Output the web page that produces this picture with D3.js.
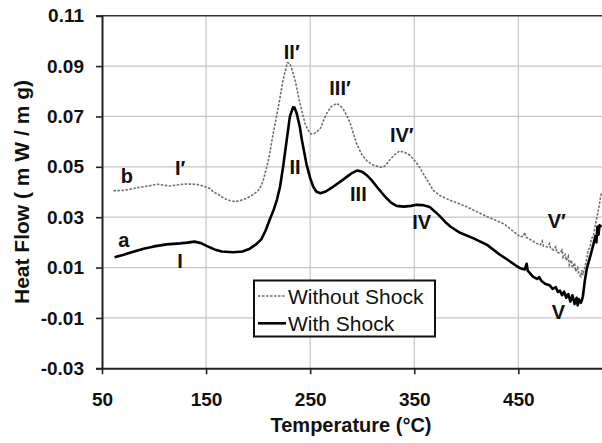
<!DOCTYPE html>
<html>
<head>
<meta charset="utf-8">
<script src="https://cdn.jsdelivr.net/npm/d3@7"></script>
<style>
  html, body { margin: 0; padding: 0; background: #fff; }
  svg { display: block; }
  text { font-family: "Liberation Sans", Arial, sans-serif; }
</style>
</head>
<body>
<svg id="chart" width="602" height="443"></svg>
<script>
// ---- data ----
const xTicks = [50, 150, 250, 350, 450];
const yTicks = [-0.03, -0.01, 0.01, 0.03, 0.05, 0.07, 0.09, 0.11];

const seriesNames = ["Without Shock", "With Shock"];

// Curve a: With Shock
const tempA = [62, 70, 80, 90, 100, 112, 125, 132, 139, 145, 151, 158, 165, 176, 185, 192, 198, 203, 207, 211, 215, 218, 221, 224, 227.5, 230.5, 233.5, 235, 237, 240, 242, 246.5, 250, 253, 256, 260, 265, 270, 282, 290, 295, 300, 304, 309, 314, 319, 323.5, 328, 333, 340, 347, 352, 358, 365, 370, 375, 380, 385, 394, 407, 420, 432, 440, 448, 452, 456, 458, 459, 464, 468, 470, 472, 476, 480, 483, 486, 488, 490, 492, 494, 496, 498, 500, 502, 504, 506, 507, 508, 510, 511, 512, 514, 516, 519, 522, 524, 525, 526, 527, 528, 530];
const heatA = [0.0141, 0.0150, 0.0163, 0.0175, 0.0184, 0.0192, 0.0196, 0.0199, 0.0203, 0.0197, 0.0185, 0.0172, 0.0164, 0.0161, 0.0164, 0.0175, 0.0192, 0.0212, 0.0245, 0.0289, 0.0330, 0.0368, 0.0420, 0.0500, 0.0607, 0.0699, 0.0736, 0.0735, 0.0713, 0.0660, 0.0607, 0.0510, 0.0455, 0.0421, 0.0401, 0.0395, 0.0402, 0.0415, 0.0450, 0.0475, 0.0485, 0.0480, 0.0468, 0.0447, 0.0421, 0.0396, 0.0375, 0.0357, 0.0345, 0.0342, 0.0345, 0.0349, 0.0348, 0.0340, 0.0322, 0.0302, 0.0280, 0.0262, 0.0238, 0.0216, 0.0190, 0.0152, 0.0130, 0.0107, 0.0097, 0.0092, 0.0115, 0.0088, 0.0064, 0.0055, 0.0062, 0.0048, 0.0035, 0.0030, 0.0015, 0.0022, 0.0003, 0.0008, -0.0010, 0.0004, -0.0020, -0.0005, -0.0035, -0.0010, -0.0045, -0.0020, -0.0050, -0.0025, -0.0040, -0.0030, -0.0015, 0.0051, 0.0100, 0.0143, 0.0190, 0.0225, 0.0200, 0.0262, 0.0230, 0.0268, 0.0262];

// Curve b: Without Shock
const tempB = [61, 70, 77, 85, 90, 96, 103, 110, 115, 122, 131, 138, 144, 150, 154, 157, 162, 167, 172, 178, 183, 189, 194, 199, 203, 205, 208, 210, 214.5, 219.5, 224, 228, 230.5, 233, 235.5, 240, 245, 248, 251, 254, 259.5, 263, 266, 270, 275.5, 281.5, 285, 288.5, 294.5, 300, 305, 310.5, 316, 320, 323, 326.5, 331, 336, 341, 346, 351, 355.5, 362, 368, 375, 384, 392, 400, 410, 420, 428, 436, 445, 450, 452, 455, 456, 457, 462, 468, 471, 473, 474, 478, 480, 481, 484, 486, 487, 490, 492, 493, 495, 496, 498, 499, 501, 502, 504, 505, 507, 508, 510, 511, 512, 514, 516, 517, 519, 520, 522, 524, 525, 527, 528.5, 529.5, 530];
const heatB = [0.0405, 0.0406, 0.0411, 0.0418, 0.0421, 0.0425, 0.0431, 0.0427, 0.0424, 0.0428, 0.0432, 0.0431, 0.0428, 0.0420, 0.0413, 0.0400, 0.0390, 0.0375, 0.0367, 0.0362, 0.0366, 0.0375, 0.0387, 0.0401, 0.0425, 0.0448, 0.0495, 0.0527, 0.0633, 0.0739, 0.0845, 0.0913, 0.0911, 0.0880, 0.0845, 0.0755, 0.0673, 0.0645, 0.0630, 0.0632, 0.0650, 0.0685, 0.0713, 0.0738, 0.0752, 0.0732, 0.0705, 0.0673, 0.0593, 0.0545, 0.0522, 0.0507, 0.0500, 0.0498, 0.0508, 0.0527, 0.0548, 0.0563, 0.0557, 0.0545, 0.0522, 0.0495, 0.0450, 0.0408, 0.0385, 0.0368, 0.0355, 0.0342, 0.0322, 0.0302, 0.0288, 0.0274, 0.0245, 0.0228, 0.0222, 0.0224, 0.0240, 0.0222, 0.0210, 0.0195, 0.0190, 0.0205, 0.0186, 0.0182, 0.0195, 0.0175, 0.0170, 0.0182, 0.0160, 0.0158, 0.0170, 0.0140, 0.0152, 0.0128, 0.0145, 0.0110, 0.0130, 0.0100, 0.0118, 0.0085, 0.0100, 0.0075, 0.0064, 0.0090, 0.0070, 0.0104, 0.0140, 0.0170, 0.0180, 0.0215, 0.0223, 0.0270, 0.0289, 0.0330, 0.0368, 0.0390, 0.0395];

// Peak annotations (text and the data point they sit at)
const peakLabels = ["b", "I\u2032", "a", "I", "II\u2032", "II", "III\u2032", "III", "IV\u2032", "IV", "V\u2032", "V"];
const peakTemps  = [74, 125, 71, 125, 232.3, 235.4, 278.7, 296.3, 338, 357.2, 486.9, 488.4];
const peakHeats  = [0.0464, 0.0494, 0.0210, 0.0126, 0.0957, 0.0500, 0.0813, 0.0392, 0.0628, 0.0282, 0.0285, -0.0075];

// ---- layout ----
const svg = d3.select("#chart");
const padL = 102, padR = 601.6, padT = 15.7, padB = 368.3;

const x = d3.scaleLinear().domain([50, 530]).range([padL, padR]);
const y = d3.scaleLinear().domain([-0.03, 0.11]).range([padB, padT]);

const defs = svg.append("defs");
defs.append("clipPath").attr("id", "clip")
  .append("rect").attr("x", padL).attr("y", padT - 2).attr("width", padR - padL + 2).attr("height", padB - padT + 4);

// gridlines
const grid = svg.append("g");
grid.selectAll("line.h").data(yTicks.filter(d => d > -0.03 && d < 0.11)).join("line")
  .attr("x1", padL).attr("x2", 602)
  .attr("y1", d => y(d)).attr("y2", d => y(d))
  .attr("stroke", "#c6c6c6").attr("stroke-width", 1.2);
grid.selectAll("line.v").data(xTicks.filter(d => d > 50)).join("line")
  .attr("x1", d => x(d)).attr("x2", d => x(d))
  .attr("y1", padT).attr("y2", padB)
  .attr("stroke", "#c6c6c6").attr("stroke-width", 1.2);

// top border
svg.append("line").attr("x1", padL).attr("x2", 602).attr("y1", padT).attr("y2", padT)
  .attr("stroke", "#333").attr("stroke-width", 1.6);

// axes
const yAxis = d3.axisLeft(y).tickValues(yTicks).tickFormat(d => d.toFixed(2)).tickSize(6).tickPadding(12);
const gy = svg.append("g").attr("transform", `translate(${padL},0)`).call(yAxis);
const xAxis = d3.axisBottom(x).tickValues(xTicks).tickFormat(d3.format("d")).tickSize(6).tickPadding(18);
const gx = svg.append("g").attr("transform", `translate(0,${padB})`).call(xAxis);

[gy, gx].forEach(g => {
  g.select(".domain").attr("stroke", "#222").attr("stroke-width", 2);
  g.selectAll(".tick line").attr("stroke", "#222").attr("stroke-width", 1.6);
  g.selectAll(".tick text").attr("fill", "#111")
    .style("font-family", '"Liberation Sans", Arial, sans-serif')
    .style("font-size", "19px").style("font-weight", "bold");
});
gx.select(".domain").attr("d", `M${padL},0.5H602`);

// axis titles
svg.append("text").attr("x", 351).attr("y", 432).attr("text-anchor", "middle")
  .style("font-size", "20px").style("font-weight", "bold").attr("fill", "#111")
  .text("Temperature (\u00B0C)");
svg.append("text").attr("transform", "translate(29,192) rotate(-90)").attr("text-anchor", "middle")
  .style("font-size", "21px").style("font-weight", "bold").attr("fill", "#111")
  .text("Heat  Flow ( m W / m g)");

// curves
const line = d3.line().x(d => x(d[0])).y(d => y(d[1])).curve(d3.curveLinear);
const dataA = tempA.map((t, i) => [t, heatA[i]]);
const dataB = tempB.map((t, i) => [t, heatB[i]]);
const plot = svg.append("g").attr("clip-path", "url(#clip)");
plot.append("path").datum(dataB).attr("d", line)
  .attr("fill", "none").attr("stroke", "#6e6e6e").attr("stroke-width", 1.6)
  .attr("stroke-dasharray", "2.5,1.5");
plot.append("path").datum(dataA).attr("d", line)
  .attr("fill", "none").attr("stroke", "#000").attr("stroke-width", 2.6)
  .attr("stroke-linejoin", "round");

// peak labels
svg.append("g").selectAll("text").data(peakLabels).join("text")
  .attr("x", (d, i) => x(peakTemps[i]))
  .attr("y", (d, i) => y(peakHeats[i]))
  .attr("text-anchor", "middle").attr("dominant-baseline", "central")
  .style("font-size", "20px").style("font-weight", "bold").attr("fill", "#111")
  .text(d => d);

// legend
const lg = svg.append("g");
lg.append("rect").attr("x", 254).attr("y", 280.5).attr("width", 181).attr("height", 56)
  .attr("fill", "#fff").attr("stroke", "#111").attr("stroke-width", 2);
const legendStyles = [
  {stroke: "#6e6e6e", width: 1.6, dash: "2.5,1.5"},
  {stroke: "#000", width: 2.6, dash: null}
];
seriesNames.forEach((name, i) => {
  const yy = 296 + i * 27.3;
  lg.append("line").attr("x1", 258).attr("x2", 286).attr("y1", yy).attr("y2", yy)
    .attr("stroke", legendStyles[i].stroke).attr("stroke-width", legendStyles[i].width)
    .attr("stroke-dasharray", legendStyles[i].dash);
  lg.append("text").attr("x", 288).attr("y", yy + 8)
    .style("font-size", "21px").attr("fill", "#111").text(name);
});
</script>
</body>
</html>
